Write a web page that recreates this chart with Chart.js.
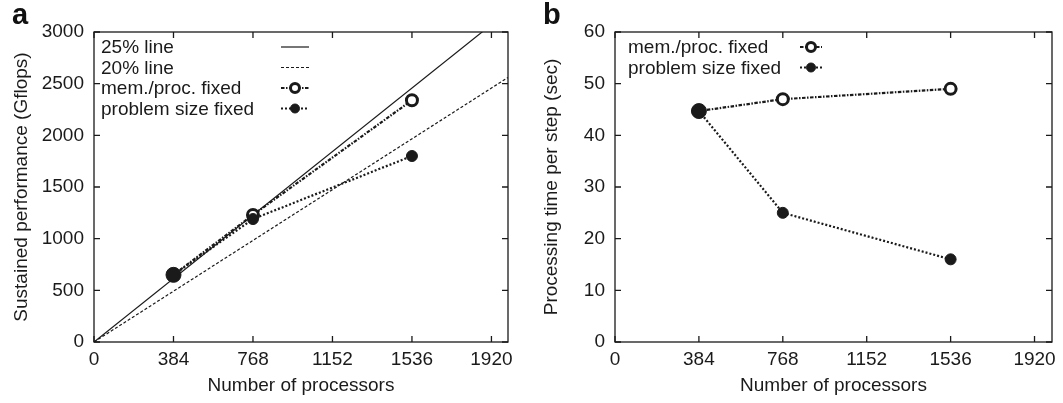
<!DOCTYPE html>
<html>
<head>
<meta charset="utf-8">
<script src="https://cdn.jsdelivr.net/npm/chart.js@4.4.0/dist/chart.umd.min.js"></script>
<style>
  html, body { margin: 0; padding: 0; background: #fff; }
  .wrap { position: relative; width: 1063px; height: 403px; }
  .panel { position: absolute; top: 0; height: 403px; }
  #pa { left: 0; width: 530px; }
  #pb { left: 530px; width: 533px; }
  .tag { position: absolute; top: -2px; font: bold 29px "Liberation Sans", Arial, sans-serif; color: #111; }
</style>
</head>
<body>
<div class="wrap">
  <div class="panel" id="pa"><canvas id="ca" width="530" height="403"></canvas></div>
  <div class="panel" id="pb"><canvas id="cb" width="533" height="403"></canvas></div>
  <div class="tag" style="left:12px">a</div>
  <div class="tag" style="left:543px">b</div>
</div>
<script>
// processors
const procs = [384, 768, 1536];
const xTicks = [0, 384, 768, 1152, 1536, 1920];

// panel a: sustained performance (Gflops)
const refX = [0, 2000];
const line25 = [0, 3200];
const line20 = [0, 2560];
const perfMemFixed = [650, 1230, 2340];
const perfSizeFixed = [650, 1190, 1800];
const yTicksA = [0, 500, 1000, 1500, 2000, 2500, 3000];

// panel b: processing time per step (sec)
const timeMemFixed = [44.7, 47, 49];
const timeSizeFixed = [44.7, 25, 16];
const yTicksB = [0, 10, 20, 30, 40, 50, 60];

const FONT = '"Liberation Sans", Arial, Helvetica, sans-serif';
const FS = 19;
const INK = '#1a1a1a';

const pts = (xs, ys) => xs.map((x, i) => ({ x, y: ys[i] }));

// frame with inward ticks on all four sides + legend inside the plot
const framePlugin = {
  id: 'frame',
  afterDraw(chart, args, opts) {
    const { ctx, chartArea: a, scales } = chart;
    ctx.save();
    ctx.strokeStyle = INK;
    ctx.lineWidth = 1.3;
    ctx.strokeRect(a.left, a.top, a.right - a.left, a.bottom - a.top);
    const t = 6;
    scales.x.ticks.forEach(tk => {
      const px = scales.x.getPixelForValue(tk.value);
      ctx.beginPath();
      ctx.moveTo(px, a.bottom); ctx.lineTo(px, a.bottom - t);
      ctx.moveTo(px, a.top); ctx.lineTo(px, a.top + t);
      ctx.stroke();
    });
    scales.y.ticks.forEach(tk => {
      const py = scales.y.getPixelForValue(tk.value);
      ctx.beginPath();
      ctx.moveTo(a.left, py); ctx.lineTo(a.left + t, py);
      ctx.moveTo(a.right, py); ctx.lineTo(a.right - t, py);
      ctx.stroke();
    });

    // legend
    ctx.font = FS + 'px ' + FONT;
    ctx.textBaseline = 'middle';
    ctx.fillStyle = INK;
    chart.data.datasets.forEach((ds, i) => {
      const y = a.top + 15 + i * 20.5;
      ctx.fillText(ds.label, a.left + opts.textX, y + 1);
      const x0 = a.left + opts.sampleX, x1 = x0 + opts.sampleW;
      ctx.beginPath();
      ctx.setLineDash(ds.borderDash || []);
      ctx.lineWidth = ds.borderWidth;
      ctx.strokeStyle = INK;
      ctx.moveTo(x0, y); ctx.lineTo(x1, y);
      ctx.stroke();
      ctx.setLineDash([]);
      if (ds.legendMarker) {
        ctx.beginPath();
        ctx.arc((x0 + x1) / 2, y, 4.5, 0, Math.PI * 2);
        ctx.fillStyle = ds.pointBackgroundColor;
        ctx.fill();
        ctx.lineWidth = ds.pointBorderWidth;
        ctx.stroke();
        ctx.fillStyle = INK;
      }
    });
    ctx.restore();
  }
};

function openSeries(label, data) {
  return {
    label, data, showLine: true, legendMarker: true, order: 2,
    borderColor: INK, borderWidth: 2.2, borderDash: [3.5, 1.5, 1.5, 1.5],
    pointStyle: 'circle', pointRadius: 5.5, pointBorderWidth: 3,
    pointBackgroundColor: '#fff', pointBorderColor: INK
  };
}
function filledSeries(label, data) {
  return {
    label, data, showLine: true, legendMarker: true, order: 1,
    borderColor: INK, borderWidth: 2.2, borderDash: [2, 2],
    pointStyle: 'circle', pointRadius: [7.5, 5.5, 5.5], pointBorderWidth: 1,
    pointBackgroundColor: INK, pointBorderColor: INK
  };
}

function makeOptions(yTicks, yMax, yTitle, leftW, pad, legendOpts) {
  return {
    responsive: false, animation: false,
    layout: { padding: pad },
    plugins: { legend: { display: false }, tooltip: { enabled: false }, frame: legendOpts },
    scales: {
      x: {
        type: 'linear', min: 0, max: 2000,
        afterBuildTicks: s => { s.ticks = xTicks.map(v => ({ value: v })); },
        afterFit: s => { s.height = 403 - 342 - pad.bottom; },
        grid: { display: false, drawTicks: false }, border: { display: false },
        ticks: { color: INK, font: { size: FS, family: FONT }, padding: 6, maxRotation: 0,
                 callback: v => String(v) },
        title: { display: true, text: 'Number of processors', color: INK,
                 font: { size: FS, family: FONT }, padding: { top: 6 } }
      },
      y: {
        type: 'linear', min: 0, max: yMax,
        afterBuildTicks: s => { s.ticks = yTicks.map(v => ({ value: v })); },
        afterFit: s => { s.width = leftW; },
        grid: { display: false, drawTicks: false }, border: { display: false },
        ticks: { color: INK, font: { size: FS, family: FONT }, padding: 10,
                 callback: v => String(v) },
        title: { display: true, text: yTitle, color: INK,
                 font: { size: FS, family: FONT }, padding: { bottom: 4 } }
      }
    }
  };
}

new Chart(document.getElementById('ca'), {
  type: 'scatter',
  data: {
    datasets: [
      { label: '25% line', data: pts(refX, line25), showLine: true, borderColor: INK,
        borderWidth: 1.2, pointRadius: 0, order: 3 },
      { label: '20% line', data: pts(refX, line20), showLine: true, borderColor: INK,
        borderWidth: 1.2, borderDash: [3, 2], pointRadius: 0, order: 3 },
      openSeries('mem./proc. fixed', pts(procs, perfMemFixed)),
      filledSeries('problem size fixed', pts(procs, perfSizeFixed))
    ]
  },
  options: makeOptions(yTicksA, 3000, 'Sustained performance (Gflops)', 88,
    { left: 6, right: 22, top: 32, bottom: 2 },
    { textX: 7, sampleX: 187, sampleW: 28 }),
  plugins: [framePlugin]
});

new Chart(document.getElementById('cb'), {
  type: 'scatter',
  data: {
    datasets: [
      openSeries('mem./proc. fixed', pts(procs, timeMemFixed)),
      filledSeries('problem size fixed', pts(procs, timeSizeFixed))
    ]
  },
  options: makeOptions(yTicksB, 60, 'Processing time per step (sec)', 79,
    { left: 6, right: 11, top: 32, bottom: 2 },
    { textX: 13, sampleX: 185, sampleW: 22 }),
  plugins: [framePlugin]
});
</script>
</body>
</html>
